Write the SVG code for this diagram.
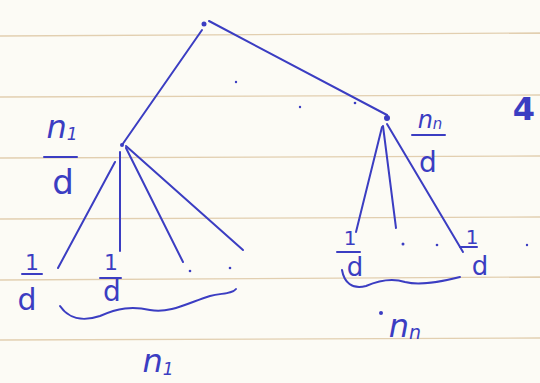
<svg xmlns="http://www.w3.org/2000/svg" width="540" height="383" viewBox="0 0 540 383">
<style>
.rule{stroke:#e2cfb0;stroke-width:1.3}
.ink{stroke:#3b3dc2;stroke-width:2;fill:none;stroke-linecap:round;stroke-linejoin:round}
.dot{fill:#3b3dc2}
.t{font-family:"DejaVu Sans","Liberation Sans",sans-serif;fill:#3b3dc2;text-anchor:middle}
.bar{stroke:#3b3dc2;stroke-width:2;stroke-linecap:round}
</style>
<rect width="540" height="383" fill="#fcfbf5"/>
<g id="paper">
<line class="rule" x1="0" y1="36" x2="540" y2="33"/>
<line class="rule" x1="0" y1="97" x2="540" y2="95"/>
<line class="rule" x1="0" y1="158" x2="540" y2="156"/>
<line class="rule" x1="0" y1="219" x2="540" y2="217"/>
<line class="rule" x1="0" y1="280" x2="540" y2="277"/>
<line class="rule" x1="0" y1="340" x2="540" y2="338"/>
</g>
<g id="connectors">
<path class="ink" d="M202 30 L122 145"/>
<path class="ink" d="M209 21 L387 115"/>
<path class="ink" d="M115 162 L58 268"/>
<path class="ink" d="M120 152 L120 251"/>
<path class="ink" d="M126 148 L183 262"/>
<path class="ink" d="M126 146 L243 250"/>
<path class="ink" d="M382 127 L356 232"/>
<path class="ink" d="M383 126 L396 228"/>
<path class="ink" d="M387 124 L463 252"/>
</g>
<g id="root"><circle class="dot" cx="204" cy="24" r="2.5"/></g>
<g id="left-child">
<circle class="dot" cx="122" cy="145" r="2"/>
<text class="t" x="62" y="138" style="font-size:32px;font-style:italic">n<tspan style="font-size:17px" dy="2">1</tspan></text>
<line class="bar" x1="44" y1="157" x2="77" y2="157"/>
<text class="t" x="63" y="194" style="font-size:34px">d</text>
</g>
<g id="right-child">
<circle class="dot" cx="387" cy="118" r="3"/>
<text class="t" x="430" y="128" style="font-size:24px;font-style:italic">n<tspan style="font-size:15px" dy="1">n</tspan></text>
<line class="bar" x1="412" y1="135" x2="445" y2="135"/>
<text class="t" x="428" y="172" style="font-size:28px">d</text>
</g>
<g id="leaf-l1">
<text class="t" x="32" y="270" style="font-size:22px">1</text>
<line class="bar" x1="22" y1="274" x2="42" y2="274"/>
<text class="t" x="27" y="310" style="font-size:30px">d</text>
</g>
<g id="leaf-l2">
<text class="t" x="111" y="270" style="font-size:22px">1</text>
<line class="bar" x1="100" y1="278" x2="121" y2="278"/>
<text class="t" x="112" y="301" style="font-size:28px">d</text>
</g>
<g id="left-dots">
<circle class="dot" cx="190" cy="271" r="1.3"/>
<circle class="dot" cx="230" cy="268" r="1.3"/>
</g>
<g id="leaf-r1">
<text class="t" x="350" y="245" style="font-size:20px">1</text>
<line class="bar" x1="337" y1="252" x2="360" y2="252"/>
<text class="t" x="355" y="276" style="font-size:26px">d</text>
</g>
<g id="right-dots">
<circle class="dot" cx="403" cy="244" r="1.5"/>
<circle class="dot" cx="437" cy="245" r="1.3"/>
</g>
<g id="leaf-r2">
<text class="t" x="472" y="244" style="font-size:20px">1</text>
<line class="bar" x1="460" y1="247" x2="477" y2="247"/>
<text class="t" x="480" y="275" style="font-size:26px">d</text>
</g>
<g id="misc">
<circle class="dot" cx="236" cy="82" r="1.2"/>
<circle class="dot" cx="300" cy="107" r="1.2"/>
<circle class="dot" cx="355" cy="103" r="1.3"/>
<circle class="dot" cx="527" cy="245" r="1.2"/>
<text class="t" x="524" y="120" style="font-size:32px;font-weight:bold">4</text>
</g>
<g id="brace-left">
<path class="ink" d="M60 306 C68 318 82 322 100 316 C118 308 132 306 150 310 C170 314 190 302 210 296 C222 293 232 294 236 289"/>
<text class="t" x="158" y="372" style="font-size:32px;font-style:italic">n<tspan style="font-size:17px" dy="3">1</tspan></text>
</g>
<g id="brace-right">
<path class="ink" d="M342 270 C344 282 352 290 366 286 C380 280 392 278 405 282 C420 286 440 282 460 277"/>
<circle class="dot" cx="381" cy="313" r="2"/>
<text class="t" x="405" y="337" style="font-size:32px;font-style:italic">n<tspan style="font-size:19px" dy="2">n</tspan></text>
</g>
</svg>
